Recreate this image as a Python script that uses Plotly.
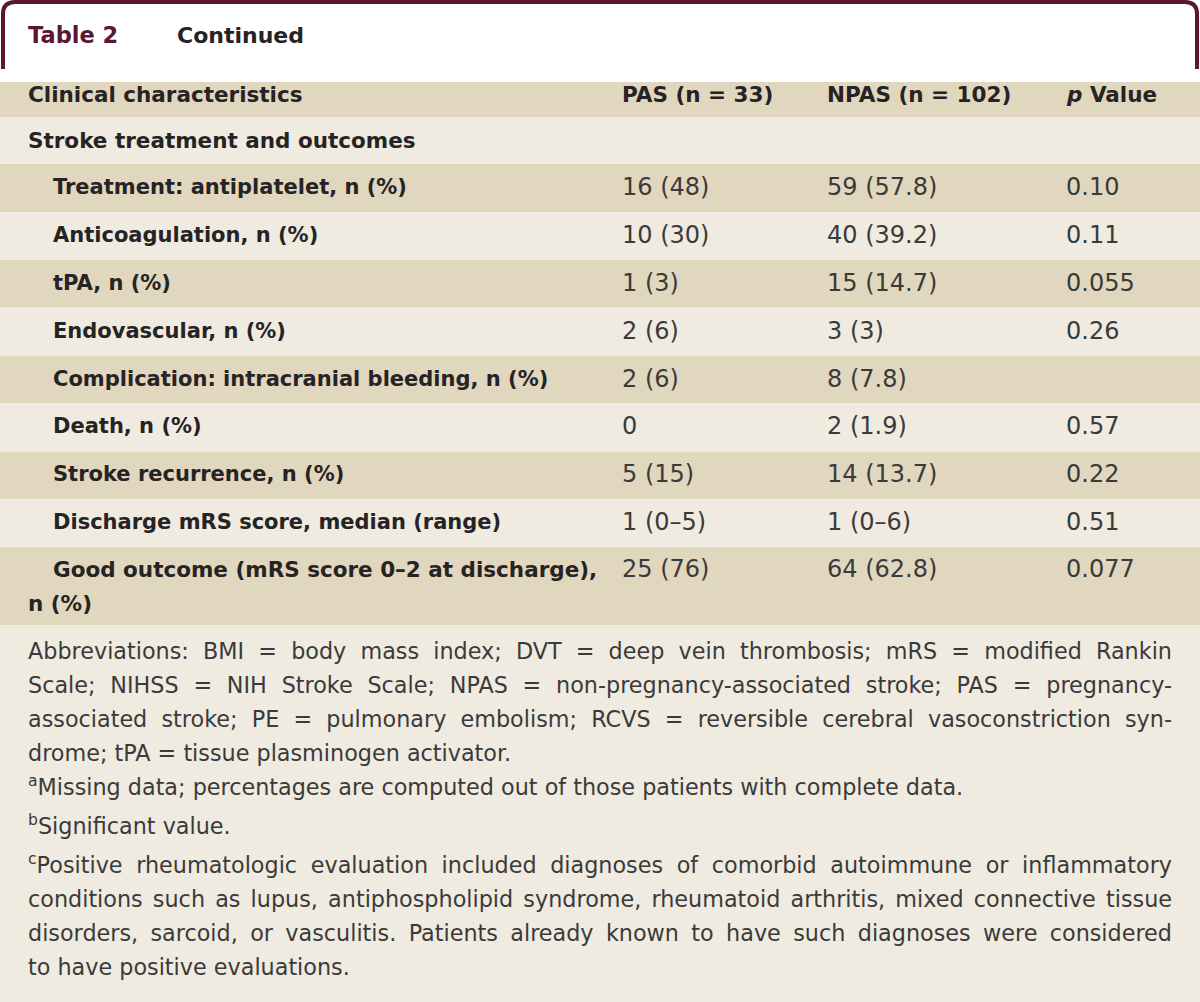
import json
import plotly.graph_objects as go

# ---------------- data ----------------
title_label = "Table 2"
title_suffix = "Continued"
col_headers = ["Clinical characteristics", "PAS (n = 33)", "NPAS (n = 102)", "<i>p</i> Value"]
section_label = "Stroke treatment and outcomes"
row_labels = [
    "Treatment: antiplatelet, n (%)",
    "Anticoagulation, n (%)",
    "tPA, n (%)",
    "Endovascular, n (%)",
    "Complication: intracranial bleeding, n (%)",
    "Death, n (%)",
    "Stroke recurrence, n (%)",
    "Discharge mRS score, median (range)",
    "Good outcome (mRS score 0–2 at discharge),\nn (%)",
]
pas_values = ["16 (48)", "10 (30)", "1 (3)", "2 (6)", "2 (6)", "0", "5 (15)", "1 (0–5)", "25 (76)"]
npas_values = ["59 (57.8)", "40 (39.2)", "15 (14.7)", "3 (3)", "8 (7.8)", "2 (1.9)", "14 (13.7)", "1 (0–6)", "64 (62.8)"]
p_values = ["0.10", "0.11", "0.055", "0.26", "", "0.57", "0.22", "0.51", "0.077"]
footnote_paragraphs = [
    ["Abbreviations: BMI = body mass index; DVT = deep vein thrombosis; mRS = modified Rankin",
     "Scale; NIHSS = NIH Stroke Scale; NPAS = non-pregnancy-associated stroke; PAS = pregnancy-",
     "associated stroke; PE = pulmonary embolism; RCVS = reversible cerebral vasoconstriction syn-",
     "drome; tPA = tissue plasminogen activator."],
    ["<sup>a</sup>Missing data; percentages are computed out of those patients with complete data."],
    ["<sup>b</sup>Significant value."],
    ["<sup>c</sup>Positive rheumatologic evaluation included diagnoses of comorbid autoimmune or inflammatory",
     "conditions such as lupus, antiphospholipid syndrome, rheumatoid arthritis, mixed connective tissue",
     "disorders, sarcoid, or vasculitis. Patients already known to have such diagnoses were considered",
     "to have positive evaluations."],
]

# ---------------- style ----------------
W, H = 1200, 1002
TAN = "#e1d6be"
LIGHT = "#efebe0"
MAROON = "#5a1632"
DARK = "#262324"
VAL = "#3b3a3a"
FONT = "DejaVu Sans"
PAD = 2  # annotation inner padding
col_x = [28, 622, 827, 1066]
indent_x = 53
right_edge = 1172

header_top, header_h = 82, 35
section_h = 47
row_h = 47.9
last_row_h = 78
line_gap = 34
foot_gap = 33.8
para_gaps = [1.5, 5, 5]

fig = go.Figure()
shapes = []
ann = []
justify_idx = []


def rect(y0, y1, color):
    shapes.append(dict(type="rect", xref="x", yref="y", x0=0, x1=W, y0=y0, y1=y1,
                       fillcolor=color, line=dict(width=0), layer="below"))


def text(x, y, s, size=21, color=DARK, weight="normal"):
    if not s:
        return None
    ann.append(dict(x=x - PAD, y=y, xref="x", yref="y", text=s, showarrow=False,
                    xanchor="left", yanchor="middle", align="left",
                    font=dict(family=FONT, size=size, color=color, weight=weight)))
    return len(ann) - 1


# frame tab
shapes.append(dict(type="path", xref="x", yref="y",
                   path="M 3,69 L 3,14 Q 3,2 15,2 L 1185,2 Q 1197,2 1197,14 L 1197,69",
                   line=dict(color=MAROON, width=4)))
text(28, 35, title_label, size=22.5, color=MAROON, weight="bold")
text(177, 35, title_suffix, size=22, color=DARK, weight="bold")

# header
rect(header_top, header_top + header_h, TAN)
for i, h in enumerate(col_headers):
    text(col_x[i], header_top + 12, h, size=21.5, weight="bold")

# section row
y = header_top + header_h
rect(y, y + section_h, LIGHT)
text(col_x[0], y + section_h / 2, section_label, size=21.5, weight="bold")
y += section_h

# data rows
for i, lab in enumerate(row_labels):
    lines = lab.split("\n")
    h = row_h if len(lines) == 1 else last_row_h
    rect(y, y + h, TAN if i % 2 == 0 else LIGHT)
    if len(lines) == 1:
        cy = y + h / 2 - 1
        text(indent_x, cy, lines[0], weight="bold")
    else:
        cy = y + 22
        text(indent_x, cy, lines[0], size=21.5, weight="bold")
        for k, extra in enumerate(lines[1:]):
            text(col_x[0], cy + line_gap * (k + 1), extra, size=21.5, weight="bold")
    text(col_x[1], cy, pas_values[i], size=24, color=VAL)
    text(col_x[2], cy, npas_values[i], size=24, color=VAL)
    text(col_x[3], cy, p_values[i], size=24, color=VAL)
    y += h

# footnotes (justified except last line of each paragraph)
rect(y, H, LIGHT)
fy = y + 26
for p, para in enumerate(footnote_paragraphs):
    for j, line in enumerate(para):
        dy = -2 if line.startswith("<sup>") else 0
        idx = text(col_x[0], fy + dy, line, size=22.3, color=VAL)
        if j < len(para) - 1:
            justify_idx.append(idx)
        fy += foot_gap
    if p < len(para_gaps):
        fy += para_gaps[p]

fig.update_layout(
    width=W, height=H,
    margin=dict(l=0, r=0, t=0, b=0),
    paper_bgcolor="white", plot_bgcolor="white",
    xaxis=dict(range=[0, W], visible=False, fixedrange=True),
    yaxis=dict(range=[H, 0], visible=False, fixedrange=True),
    shapes=shapes, annotations=ann, showlegend=False,
)

post = """
document.body.style.margin='0';document.body.style.padding='0';
var just = %s; var target = %d;
document.querySelectorAll('g.annotation').forEach(function(g){
  var idx = +g.getAttribute('data-index');
  if (just.indexOf(idx) < 0) return;
  var t = g.querySelector('text.annotation-text');
  if (!t) return;
  var len = t.getComputedTextLength();
  var n = (t.textContent.match(/ /g) || []).length;
  if (n > 0 && target > len) t.style.wordSpacing = ((target - len) / n) + 'px';
});
""" % (json.dumps(justify_idx), right_edge - col_x[0])

fig.write_html("out.html", config={"displayModeBar": False}, post_script=post)
